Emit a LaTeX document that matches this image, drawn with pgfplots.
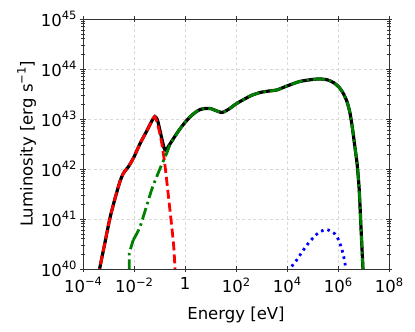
\documentclass[border=0pt]{standalone}
\usepackage{fontspec}
\setmainfont{DejaVu Sans}
\usepackage{pgfplots}
\pgfplotsset{compat=1.18}

\newcommand\sups[1]{\raisebox{0.42em}{\fontsize{11.5bp}{12bp}\selectfont #1}}
\newcommand\bigfont{\fontsize{16.5bp}{19bp}\selectfont}

\begin{document}
\begin{tikzpicture}
\begin{axis}[
	name=ax,
	scale only axis,
	width=306bp, height=250bp,
	xmode=log, ymode=log,
	xmin=1e-4, xmax=1e8, ymin=1e40, ymax=1e45,
	xtick={1e-4,1e-2,1,1e2,1e4,1e6,1e8},
	xticklabels={10\sups{−4},10\sups{−2},1,10\sups{2},10\sups{4},10\sups{6},10\sups{8}},
	xminorticks=false,
	ytick={1e40,1e41,1e42,1e43,1e44,1e45},
	yticklabels={10\sups{40},10\sups{41},10\sups{42},10\sups{43},10\sups{44},10\sups{45}},
	minor ytick={2e40,3e40,4e40,5e40,6e40,7e40,8e40,9e40,
		2e41,3e41,4e41,5e41,6e41,7e41,8e41,9e41,
		2e42,3e42,4e42,5e42,6e42,7e42,8e42,9e42,
		2e43,3e43,4e43,5e43,6e43,7e43,8e43,9e43,
		2e44,3e44,4e44,5e44,6e44,7e44,8e44,9e44},
	tick align=center,
	major tick length=6bp, minor tick length=4bp,
	tick style={black!80, line width=0.8bp},
	axis line style={black!80, line width=0.9bp},
	grid=major,
	major grid style={black!15, line width=0.6bp, dash pattern=on 3bp off 2.5bp},
	tick label style={font=\bigfont},
	label style={font=\bigfont},
	xticklabel style={yshift=-2bp},
	xlabel={Energy [eV]},
	ylabel={Luminosity [erg s\sups{−1}]},
	xlabel style={yshift=-7bp},
	ylabel style={yshift=-2bp},
]
% total
\addplot[black, line width=3.2bp, smooth, tension=0.4] coordinates {
(3.16e-4,3.8e39) (4.47e-4,1e40) (7.08e-4,3.16e40) (1.12e-3,1e41) (1.78e-3,2.51e41)
(2.82e-3,5.62e41) (3.80e-3,8.13e41) (6.31e-3,1.15e42) (1e-2,1.74e42) (1.74e-2,3.24e42)
(3.16e-2,5.75e42) (5.01e-2,9.12e42) (6.61e-2,1.12e43) (8.32e-2,9.55e42) (0.112,5.01e42)
(0.151,2.63e42) (0.178,2.38e42) (0.251,3.1e42) (0.398,4.47e42) (0.631,6.31e42)
(1,8.51e42) (1.585,1.10e43) (2.51,1.35e43) (3.98,1.55e43) (6.31,1.62e43) (10,1.62e43)
(15.8,1.48e43) (28.2,1.35e43) (50.1,1.55e43) (100,2.0e43) (200,2.45e43) (398,2.95e43)
(891,3.39e43) (2.0e3,3.63e43) (3.98e3,3.80e43) (1e4,4.57e43) (3.16e4,5.62e43)
(1e5,6.17e43) (2e5,6.31e43) (3.98e5,6.03e43) (7.08e5,5.25e43) (1.12e6,4.27e43)
(1.58e6,3.31e43) (2.24e6,2.24e43) (2.95e6,1.32e43) (3.72e6,6.31e42) (4.57e6,2.82e42)
(5.62e6,1.26e42) (6.76e6,3.98e41) (7.94e6,7.08e40) (9.33e6,1.26e40) (1e7,5e39)
};
% red component
\addplot[red, line width=2.8bp, smooth, tension=0.4, dash pattern=on 9bp off 4bp] coordinates {
(3.16e-4,3.8e39) (4.47e-4,1e40) (7.08e-4,3.16e40) (1.12e-3,1e41) (1.78e-3,2.51e41)
(2.82e-3,5.62e41) (3.80e-3,8.13e41) (6.31e-3,1.15e42) (1e-2,1.74e42) (1.74e-2,3.24e42)
(3.16e-2,5.75e42) (5.01e-2,9.12e42) (6.61e-2,1.12e43) (8.91e-2,7.08e42) (0.123,3.24e42)
(0.166,1.12e42) (0.257,1.51e41) (0.355,3.16e40) (0.407,1e40) (0.437,5e39)
};
% green component (steep edge)
\addplot[green!50!black, line width=2.8bp, dash pattern=on 12bp off 4bp on 2.5bp off 4bp] coordinates {
(6.46e-3,3.16e39) (6.46e-3,2.04e40) (9.33e-3,3.8e40)
};
% green component
\addplot[green!50!black, line width=2.8bp, smooth, tension=0.4, dash pattern=on 12bp off 4bp on 2.5bp off 4bp] coordinates {
(9.33e-3,3.8e40) (1.74e-2,7.08e40) (4.9e-2,3.8e41)
(0.105,1.02e42) (0.19,2.04e42) (0.251,2.95e42) (0.398,4.37e42) (0.631,6.31e42)
(1,8.51e42) (1.585,1.10e43) (2.51,1.35e43) (3.98,1.55e43) (6.31,1.62e43) (10,1.62e43)
(15.8,1.48e43) (28.2,1.35e43) (50.1,1.55e43) (100,2.0e43) (200,2.45e43) (398,2.95e43)
(891,3.39e43) (2.0e3,3.63e43) (3.98e3,3.80e43) (1e4,4.57e43) (3.16e4,5.62e43)
(1e5,6.17e43) (2e5,6.31e43) (3.98e5,6.03e43) (7.08e5,5.25e43) (1.12e6,4.27e43)
(1.58e6,3.31e43) (2.24e6,2.24e43) (2.95e6,1.32e43) (3.72e6,6.31e42) (4.57e6,2.82e42)
(5.62e6,1.26e42) (6.76e6,3.98e41) (7.94e6,7.08e40) (9.33e6,1.26e40) (1e7,5e39)
};
% blue component
\addplot[blue, line width=2.8bp, smooth, tension=0.4, dash pattern=on 2.6bp off 4bp] coordinates {
(1.12e4,6.31e39) (1.32e4,1e40) (2.40e4,1.51e40) (3.55e4,2.04e40) (5.89e4,2.95e40)
(1e5,4.07e40) (1.78e5,5.37e40) (3.55e5,6.17e40) (7.59e5,5.01e40) (1.12e6,3.55e40)
(1.48e6,2.29e40) (1.78e6,1.51e40) (2.04e6,1e40) (2.29e6,6.31e39)
};
\end{axis}
\pgfresetboundingbox
\path (ax.south west) ++(-83bp,-63bp) rectangle ++(415bp,332bp);
\end{tikzpicture}
\end{document}
